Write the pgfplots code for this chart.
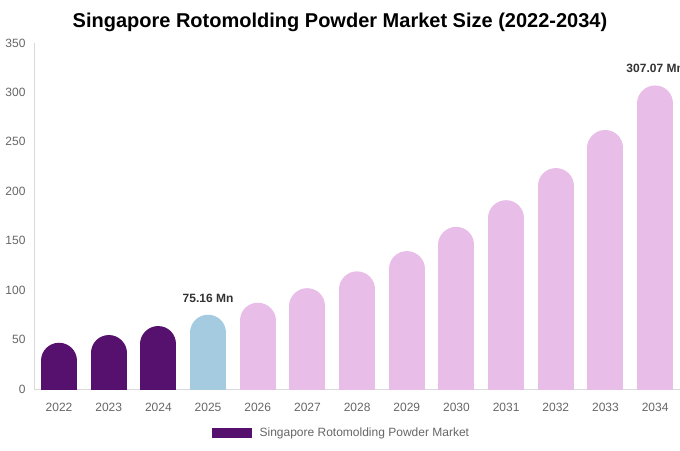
\documentclass[border=0pt]{standalone}
\usepackage{pgfplots}
\pgfplotsset{compat=1.18}
\usepackage{fontspec}
\setmainfont{Liberation Sans}
\definecolor{dk}{HTML}{56116F}
\definecolor{bl}{HTML}{A4CBE0}
\definecolor{pk}{HTML}{E8BDE8}
\definecolor{tk}{HTML}{666666}

\begin{document}
\begin{tikzpicture}
\begin{axis}[
  scale only axis, width=484.35pt, height=259.5pt,
  xmin=-0.5, xmax=12.5, ymin=0, ymax=350, enlargelimits=false,
  xtick={0,...,12},
  xticklabels={2022,2023,2024,2025,2026,2027,2028,2029,2030,2031,2032,2033,2034},
  ytick={0,50,...,350},
  /pgf/number format/assume math mode=true,
  ticklabel style={font=\fontsize{9}{11}\selectfont, text=tk},
  xticklabel style={yshift=-7pt},
  yticklabel style={xshift=-3pt},
  major tick length=0pt,
  axis x line*=bottom, axis y line*=left,
  axis line style={-, draw=black!15},
  title={Singapore Rotomolding Powder Market Size (2022-2034)},
  title style={at={(0.4735,1)}, anchor=center, yshift=9.5pt, font=\bfseries\fontsize{15}{18}\selectfont},
  legend style={at={(0.4761,-0.127)}, anchor=center, draw=none, font=\fontsize{9}{11}\selectfont, text=tk},
  legend image code/.code={\fill[dk, draw=none, line width=0pt] (0pt,-4pt) rectangle (30pt,4pt);\path[draw=none] (30pt,0pt) -- (34pt,0pt);},
  nodes near coords style={font=\bfseries\fontsize{9}{11}\selectfont, text=black!80, line width=0.4pt, outer sep=0pt, yshift=6pt},
  every axis plot/.append style={ycomb, mark=none, line width=27pt, line cap=round, shorten >=13.5pt},
]
\addplot[draw=dk] coordinates {(0,46.8)};
\addlegendentry{Singapore Rotomolding Powder Market}
\addplot[draw=dk, forget plot] coordinates {(1,54.6)};
\addplot[draw=dk, forget plot] coordinates {(2,63.7)};
\addplot[draw=bl, forget plot, nodes near coords={75.16 Mn}] coordinates {(3,75.16)};
\addplot[draw=pk, forget plot] coordinates {(4,87.3)};
\addplot[draw=pk, forget plot] coordinates {(5,102)};
\addplot[draw=pk, forget plot] coordinates {(6,119)};
\addplot[draw=pk, forget plot] coordinates {(7,139.5)};
\addplot[draw=pk, forget plot] coordinates {(8,164)};
\addplot[draw=pk, forget plot] coordinates {(9,191)};
\addplot[draw=pk, forget plot] coordinates {(10,223.5)};
\addplot[draw=pk, forget plot] coordinates {(11,262)};
\addplot[draw=pk, forget plot, nodes near coords={307.07 Mn}] coordinates {(12,307.07)};
\coordinate (O) at (rel axis cs:0,0);
\end{axis}
\pgfresetboundingbox
\path ([shift={(-25.65pt,-45.75pt)}]O) rectangle ++(510pt,337.5pt);
\end{tikzpicture}
\end{document}
